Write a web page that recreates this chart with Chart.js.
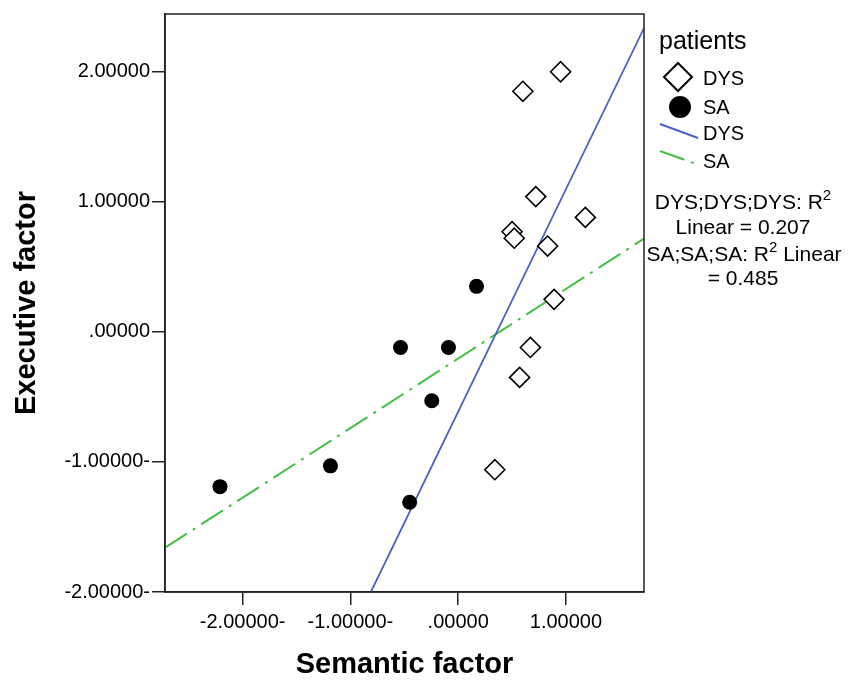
<!DOCTYPE html>
<html>
<head>
<meta charset="utf-8">
<script src="https://cdn.jsdelivr.net/npm/chart.js@4.4.1/dist/chart.umd.min.js"></script>
<style>
  html, body { margin: 0; padding: 0; background: #fff; }
  #wrap { width: 849px; height: 682px; position: relative; }
</style>
</head>
<body>
<div id="wrap"><canvas id="scatter"></canvas></div>
<script>
// values
const semanticDYS  = [0.95, 0.60, 0.72, 1.18, 0.50, 0.52, 0.83, 0.89, 0.67, 0.57, 0.34];
const executiveDYS = [2.00, 1.85, 1.04, 0.88, 0.77, 0.72, 0.66, 0.25, -0.12, -0.35, -1.06];
const semanticSA   = [-2.21, -1.185, -0.535, -0.09, -0.245, -0.45, 0.17];
const executiveSA  = [-1.19, -1.03, -0.12, -0.12, -0.53, -1.31, 0.35];

// fit lines (ends at the plot border)
const fitDYSx = [-0.81, 1.724];
const fitDYSy = [-2.0, 2.336];
const fitSAx  = [-2.72, 1.724];
const fitSAy  = [-1.66, 0.717];

const xTicks = [-2, -1, 0, 1];
const xTickLabels = ['-2.00000-', '-1.00000-', '.00000', '1.00000'];
const yTicks = [-2, -1, 0, 1, 2];
const yTickLabels = ['-2.00000-', '-1.00000-', '.00000', '1.00000', '2.00000'];

const FONT = "'Liberation Sans', Arial, sans-serif";
const BLUE = '#4a62c4';
const GREEN = '#43c043';
const SA_DASH = [26, 7, 3, 7];

function pts(xs, ys) {
  return xs.map((x, i) => ({ x: x, y: ys[i] }));
}

const legendPlugin = {
  id: 'spssLegend',
  afterDraw(chart) {
    const ctx = chart.ctx;
    ctx.save();
    ctx.fillStyle = '#000';
    ctx.textBaseline = 'middle';
    ctx.textAlign = 'left';
    ctx.font = '25px ' + FONT;
    ctx.fillText('patients', 659, 42);

    ctx.font = '20px ' + FONT;
    // diamond
    ctx.beginPath();
    ctx.moveTo(678, 63); ctx.lineTo(692, 77); ctx.lineTo(678, 91); ctx.lineTo(664, 77);
    ctx.closePath();
    ctx.fillStyle = '#fff'; ctx.fill();
    ctx.strokeStyle = '#000'; ctx.lineWidth = 2; ctx.stroke();
    ctx.fillStyle = '#000';
    ctx.fillText('DYS', 703, 79);

    // circle
    ctx.beginPath();
    ctx.arc(680, 107, 11, 0, Math.PI * 2);
    ctx.fill();
    ctx.fillText('SA', 703, 108);

    // lines
    ctx.lineWidth = 2;
    ctx.strokeStyle = BLUE;
    ctx.beginPath(); ctx.moveTo(660, 124); ctx.lineTo(698, 138); ctx.stroke();
    ctx.fillText('DYS', 703, 134);
    ctx.strokeStyle = GREEN;
    ctx.setLineDash(SA_DASH);
    ctx.beginPath(); ctx.moveTo(660, 151); ctx.lineTo(699, 165); ctx.stroke();
    ctx.setLineDash([]);
    ctx.fillText('SA', 703, 162);

    // R squared notes
    const supLine = (parts, cx, cy) => {
      let w = 0;
      parts.forEach(p => {
        ctx.font = (p.sup ? '15px ' : '21px ') + FONT;
        w += ctx.measureText(p.t).width;
      });
      let x = cx - w / 2;
      parts.forEach(p => {
        ctx.font = (p.sup ? '15px ' : '21px ') + FONT;
        ctx.fillText(p.t, x, p.sup ? cy - 7 : cy);
        x += ctx.measureText(p.t).width;
      });
    };
    supLine([{ t: 'DYS;DYS;DYS: R' }, { t: '2', sup: true }], 743, 203);
    supLine([{ t: 'Linear = 0.207' }], 743, 228);
    supLine([{ t: 'SA;SA;SA: R' }, { t: '2', sup: true }, { t: ' Linear' }], 744, 255);
    supLine([{ t: '= 0.485' }], 743, 279);

    // frame around the plot
    const a = chart.chartArea;
    ctx.strokeStyle = '#222';
    ctx.lineWidth = 1.5;
    ctx.strokeRect(a.left, a.top, a.right - a.left, a.bottom - a.top);
    ctx.restore();
  }
};

new Chart(document.getElementById('scatter'), {
  type: 'scatter',
  data: {
    datasets: [
      {
        label: 'DYS',
        data: pts(semanticDYS, executiveDYS),
        pointStyle: 'rectRot',
        pointRadius: 10,
        pointBackgroundColor: '#fff',
        pointBorderColor: '#000',
        pointBorderWidth: 1.6,
        order: 0
      },
      {
        label: 'SA',
        data: pts(semanticSA, executiveSA),
        pointStyle: 'circle',
        pointRadius: 7.5,
        pointBackgroundColor: '#000',
        pointBorderColor: '#000',
        pointBorderWidth: 0,
        order: 0
      },
      {
        label: 'DYS fit',
        type: 'line',
        data: pts(fitDYSx, fitDYSy),
        borderColor: BLUE,
        borderWidth: 1.8,
        pointRadius: 0,
        fill: false,
        order: 1
      },
      {
        label: 'SA fit',
        type: 'line',
        data: pts(fitSAx, fitSAy),
        borderColor: GREEN,
        borderWidth: 2,
        borderDash: SA_DASH,
        pointRadius: 0,
        fill: false,
        order: 1
      }
    ]
  },
  options: {
    responsive: true,
    maintainAspectRatio: false,
    animation: false,
    layout: { padding: { left: 0, top: 11, right: 205, bottom: 0 } },
    plugins: {
      legend: { display: false },
      tooltip: { enabled: false }
    },
    scales: {
      x: {
        type: 'linear',
        min: -2.72,
        max: 1.724,
        afterBuildTicks: s => { s.ticks = xTicks.map(v => ({ value: v })); },
        afterFit: s => { s.height = 90; },
        ticks: {
          callback: (v, i) => xTickLabels[i],
          color: '#000',
          font: { family: FONT, size: 20 },
          padding: 5,
          maxRotation: 0,
          autoSkip: false
        },
        grid: { drawOnChartArea: false, tickLength: 13, color: '#222', lineWidth: 1.5 },
        border: { color: '#222', width: 1.5 },
        title: {
          display: true,
          text: 'Semantic factor',
          color: '#000',
          font: { family: FONT, size: 29, weight: 'bold' },
          padding: { top: 0, bottom: 0 }
        }
      },
      y: {
        type: 'linear',
        min: -2,
        max: 2.444,
        afterBuildTicks: s => { s.ticks = yTicks.map(v => ({ value: v })); },
        afterFit: s => { s.width = 165; },
        ticks: {
          callback: (v, i) => yTickLabels[i],
          color: '#000',
          font: { family: FONT, size: 20 },
          padding: 2,
          autoSkip: false
        },
        grid: { drawOnChartArea: false, tickLength: 13, color: '#222', lineWidth: 1.5 },
        border: { color: '#222', width: 1.5 },
        title: {
          display: true,
          text: 'Executive factor',
          color: '#000',
          font: { family: FONT, size: 29, weight: 'bold' },
          padding: { top: 10, bottom: 0 }
        }
      }
    }
  },
  plugins: [legendPlugin]
});
</script>
</body>
</html>
